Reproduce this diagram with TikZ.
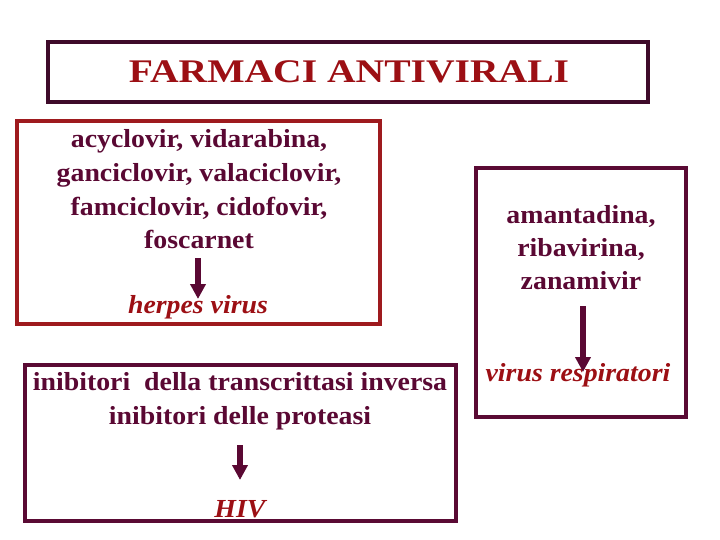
\documentclass[tikz,border=0pt]{standalone}
\usepackage{fontspec}
\setmainfont{Liberation Serif}
\newfontfamily\drugfont{Liberation Serif}[FakeStretch=1.07]
\newfontfamily\titlefont{Liberation Serif}[FakeStretch=1.2]
\usetikzlibrary{arrows.meta}
\definecolor{framedark}{HTML}{3E0A2A}
\definecolor{framered}{HTML}{9E1A1E}
\definecolor{framepurple}{HTML}{5A0A34}
\definecolor{txtpurple}{HTML}{5A0833}
\definecolor{txtred}{HTML}{9C0F14}
\tikzset{
  frame/.style={draw, line width=3.8pt},
  drug/.style={text=txtpurple, anchor=base, font=\drugfont\bfseries\fontsize{26}{30}\selectfont, inner sep=0pt},
  virus/.style={text=txtred, anchor=base, font=\drugfont\bfseries\itshape\fontsize{26}{30}\selectfont, inner sep=0pt},
  bigarrow/.style={draw=txtpurple, line width=6pt, -{Triangle[width=15pt,length=15pt]}}
}
\begin{document}
\begin{tikzpicture}[x=1pt,y=-1pt]
\useasboundingbox (0,0) rectangle (720,540);
% title
\draw[frame, draw=framedark] (48,42) rectangle (648,102);
\node[text=txtred, anchor=base, font=\titlefont\bfseries\fontsize{33}{38}\selectfont, inner sep=0pt] (title) at (349,83) {FARMACI ANTIVIRALI};
% box 1
\draw[frame, draw=framered] (17,121) rectangle (380,324);
\node[drug] (d1a) at (199,148) {acyclovir, vidarabina,};
\node[drug] (d1b) at (199,181.5) {ganciclovir, valaciclovir,};
\node[drug] (d1c) at (199,215) {famciclovir, cidofovir,};
\node[drug] (d1d) at (199,248) {foscarnet};
\node[virus] (v1) at (198,313) {herpes virus};
\coordinate (a1s) at (198,258);
\coordinate (a1e) at (198,299);
\draw[bigarrow] (a1s) -- (a1e);
% box 2
\draw[frame, draw=framepurple] (25,365) rectangle (456,521);
\node[drug] (d2a) at (240,390) {inibitori\ \ della transcrittasi inversa};
\node[drug] (d2b) at (240,424) {inibitori delle proteasi};
\node[virus] (v2) at (240,517) {HIV};
\coordinate (a2s) at (240,445);
\coordinate (a2e) at (240,480);
\draw[bigarrow] (a2s) -- (a2e);
% box 3
\draw[frame, draw=framepurple] (476,168) rectangle (686,417);
\node[drug] (d3a) at (581,224) {amantadina,};
\node[drug] (d3b) at (581,256.5) {ribavirina,};
\node[drug] (d3c) at (581,289) {zanamivir};
\node[virus] (v3) at (578,381) {virus respiratori};
\coordinate (a3s) at (583,306);
\coordinate (a3e) at (583,372);
\draw[bigarrow] (a3s) -- (a3e);
\end{tikzpicture}
\end{document}
